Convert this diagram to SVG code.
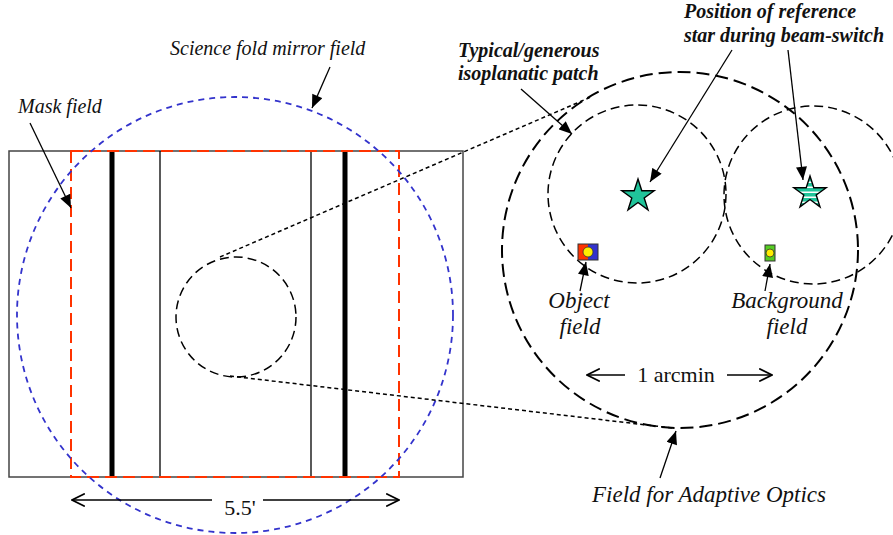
<svg xmlns="http://www.w3.org/2000/svg" width="893" height="535" viewBox="0 0 893 535">
<defs>
<marker id="fa" viewBox="0 0 12 10" markerUnits="userSpaceOnUse" markerWidth="14" markerHeight="11" refX="12" refY="5" orient="auto">
<path d="M0,0 L12,5 L0,10 z" fill="#000"/>
</marker>
<marker id="oa" viewBox="0 0 12 12" markerUnits="userSpaceOnUse" markerWidth="14" markerHeight="14" refX="11" refY="6" orient="auto">
<path d="M0,0.5 L11,6 L0,11.5" fill="none" stroke="#000" stroke-width="1.4"/>
</marker>
<pattern id="stripes" patternUnits="userSpaceOnUse" width="10" height="5">
<rect width="10" height="5" fill="#20c49a"/>
<rect y="3.5" width="10" height="1.5" fill="#ffffff"/>
</pattern>
<path id="star" d="M0,-17 L3.8,-5.3 L16.2,-5.3 L6.2,2 L10,13.8 L0,6.5 L-10,13.8 L-6.2,2 L-16.2,-5.3 L-3.8,-5.3 Z"/>
</defs>
<style>
text{font-family:'Liberation Serif','Times New Roman',Times,'DejaVu Serif',serif;fill:#111}
.it{font-style:italic;font-size:20px}
.it2{font-style:italic;font-size:23px}
.bi{font-style:italic;font-weight:bold;font-size:20px}
.rm{font-size:22px}
.ptr{stroke:#000;stroke-width:1.3;fill:none;marker-end:url(#fa)}
.dim{stroke:#000;stroke-width:1.3;fill:none;marker-end:url(#oa)}
.dot{stroke:#000;stroke-width:1.5;fill:none;stroke-dasharray:4 3}
.dsm{stroke:#000;stroke-width:1.5;fill:none;stroke-dasharray:9 5}
</style>
<rect width="893" height="535" fill="#fff"/>

<g id="mask-frame">
<rect x="9" y="151" width="454" height="326" fill="none" stroke="#444" stroke-width="1.5"/>
<line x1="160" y1="151" x2="160" y2="477" stroke="#000" stroke-width="1.3"/>
<line x1="311" y1="151" x2="311" y2="477" stroke="#000" stroke-width="1.3"/>
<line x1="112" y1="151" x2="112" y2="477" stroke="#000" stroke-width="5"/>
<line x1="345" y1="151" x2="345" y2="477" stroke="#000" stroke-width="5"/>
</g>

<g id="mask-field">
<rect x="71" y="151" width="328" height="326" fill="none" stroke="#ff3300" stroke-width="2" stroke-dasharray="12 6"/>
</g>

<g id="science-fold-field">
<circle cx="235" cy="315" r="218" fill="none" stroke="#3333cc" stroke-width="1.8" stroke-dasharray="6 5"/>
</g>

<g id="small-field">
<circle cx="236" cy="317" r="60" class="dsm"/>
</g>

<g id="ao-field">
<circle cx="680" cy="250" r="178" fill="none" stroke="#000" stroke-width="2" stroke-dasharray="13 6"/>
</g>

<g id="isoplanatic-patch">
<circle cx="637" cy="194" r="89" class="dsm"/>
</g>

<g id="beam-switch-patch">
<circle cx="813" cy="195" r="89" class="dsm" stroke-width="1.2"/>
</g>

<g id="star-1">
<use href="#star" x="638" y="196" fill="#20c49a" stroke="#000" stroke-width="1.4"/>
</g>
<g id="star-2">
<use href="#star" x="810" y="193" fill="url(#stripes)" stroke="#000" stroke-width="1.4"/>
</g>

<g id="object-marker">
<rect x="578" y="244" width="10" height="16" fill="#ff3300"/>
<rect x="588" y="244" width="10" height="16" fill="#3333cc"/>
<rect x="578" y="244" width="20" height="16" fill="none" stroke="#333" stroke-width="1"/>
<circle cx="588" cy="252" r="5" fill="#ffee00" stroke="#333" stroke-width="0.8"/>
</g>

<g id="background-marker">
<rect x="765" y="245" width="10" height="16" fill="#55cc22" stroke="#333" stroke-width="1"/>
<circle cx="770" cy="253" r="4" fill="#ffee00" stroke="#333" stroke-width="0.8"/>
</g>

<g id="connectors">
<line x1="220" y1="257" x2="591" y2="97" class="dot"/>
<line x1="230" y1="376" x2="672" y2="428" class="dot"/>
<line x1="30" y1="123" x2="71" y2="208" class="ptr"/>
<line x1="330" y1="67" x2="312" y2="108" class="ptr"/>
<line x1="521" y1="89" x2="572" y2="134" class="ptr"/>
<line x1="732" y1="50" x2="650" y2="182" class="ptr"/>
<line x1="788" y1="50" x2="803" y2="180" class="ptr"/>
<line x1="580" y1="291" x2="586" y2="262" class="ptr"/>
<line x1="765" y1="291" x2="770" y2="264" class="ptr"/>
<line x1="660" y1="478" x2="676" y2="431" class="ptr"/>
<line x1="625" y1="375" x2="587" y2="375" class="dim"/>
<line x1="727" y1="375" x2="772" y2="375" class="dim"/>
<line x1="212" y1="500" x2="72" y2="500" class="dim"/>
<line x1="263" y1="500" x2="399" y2="500" class="dim"/>
</g>

<g id="labels">
<text class="it" x="170" y="55">Science fold mirror field</text>
<text class="it" x="18" y="113">Mask field</text>
<text class="bi" x="458" y="57">Typical/generous</text>
<text class="bi" x="458" y="80">isoplanatic patch</text>
<text class="bi" x="684" y="18">Position of reference</text>
<text class="bi" x="684" y="42">star during beam-switch</text>
<text class="it2" x="579" y="308" text-anchor="middle">Object</text>
<text class="it2" x="580" y="334" text-anchor="middle">field</text>
<text class="it2" x="787" y="308" text-anchor="middle">Background</text>
<text class="it2" x="787" y="334" text-anchor="middle">field</text>
<text class="rm" x="676" y="382" text-anchor="middle">1 arcmin</text>
<text class="it2" x="592" y="502">Field for Adaptive Optics</text>
<text class="rm" x="240" y="515" text-anchor="middle" font-size="26">5.5'</text>
</g>
</svg>
